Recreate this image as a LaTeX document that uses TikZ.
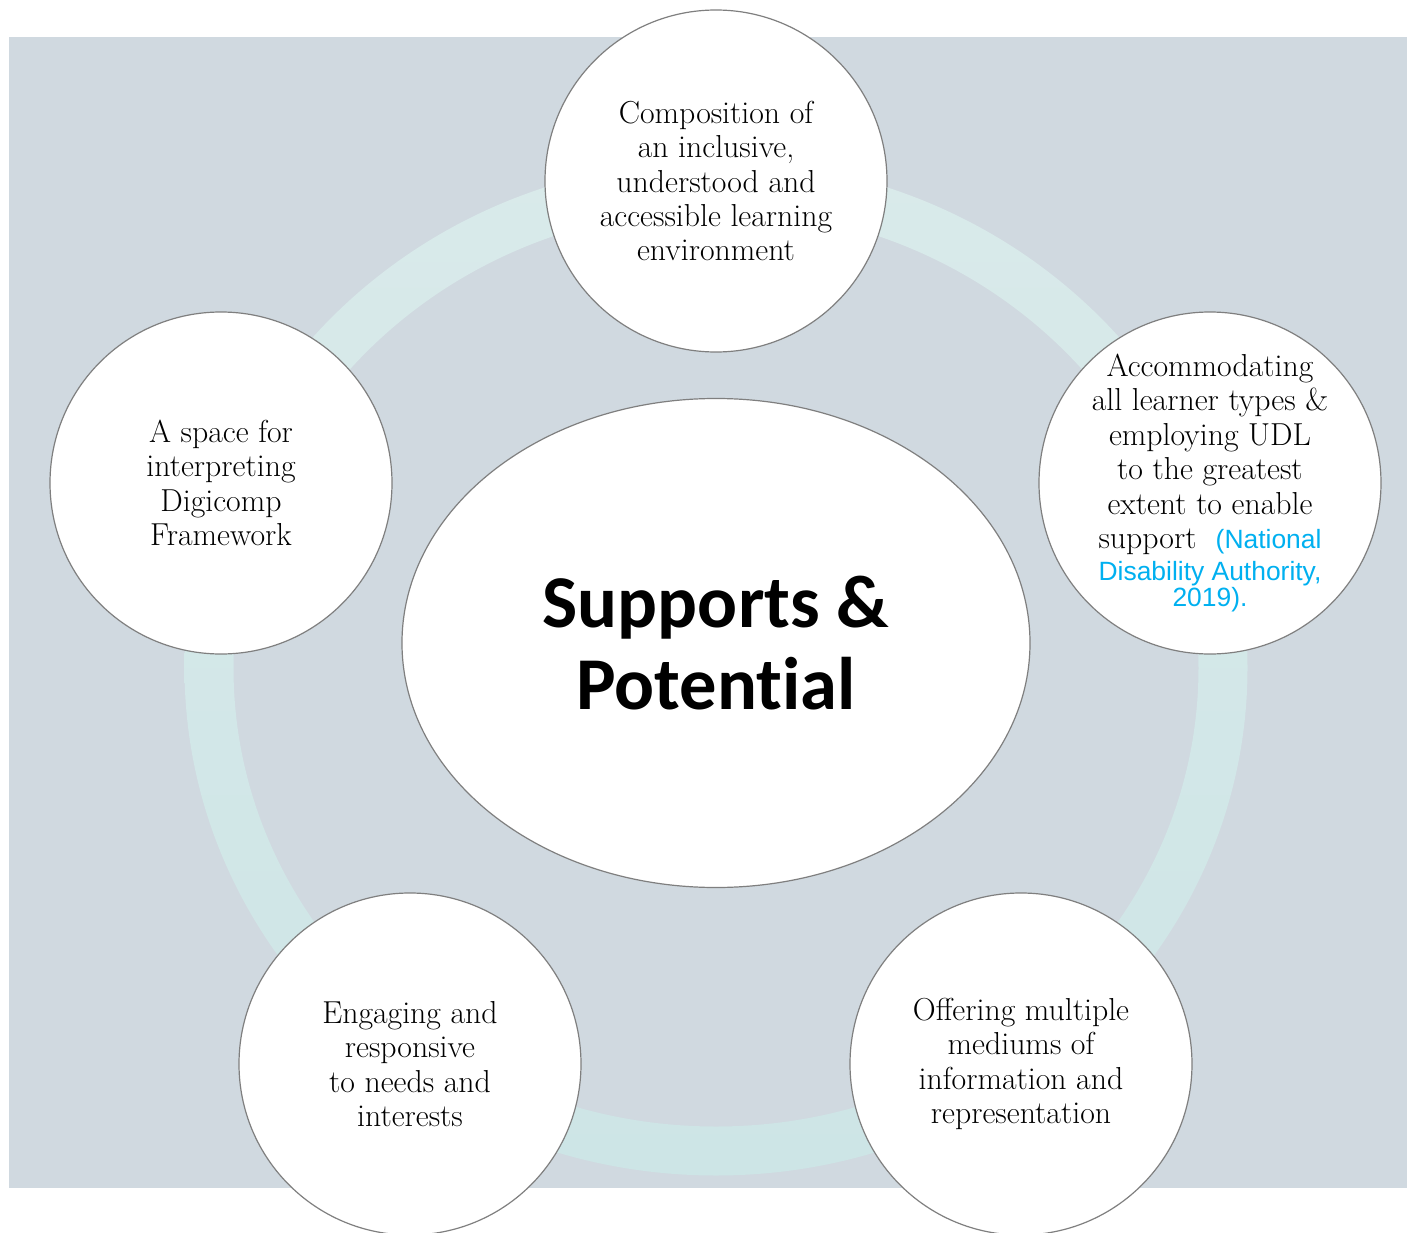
\documentclass[tikz,border=0pt]{standalone}
\usepackage{fontspec}
\newfontfamily\citefont{Liberation Sans}
\newfontfamily\hubfont{Carlito}[Ligatures=NoCommon]
\usetikzlibrary{shapes.geometric}

\definecolor{backdrop}{HTML}{D0D9E0}
\definecolor{ringtop}{HTML}{D9EAEA}
\definecolor{ringbot}{HTML}{CDE5E6}
\definecolor{citeblue}{HTML}{00B0F0}
\definecolor{rim}{HTML}{7F7F7F}

\newcommand{\refnote}[1]{{\citefont\color{citeblue}\fontsize{18.8}{20}\selectfont #1}}

\begin{document}
\begin{tikzpicture}[
    x=0.25mm,
    y=-0.25mm,
    spoke/.style={
        circle,
        draw=rim,
        line width=0.3mm,
        fill=white,
        minimum size=85.5mm,
        inner sep=0pt,
        align=center,
        font=\fontsize{22.6}{24.5}\selectfont,
    },
    hub/.style={
        ellipse,
        draw=rim,
        line width=0.3mm,
        fill=white,
        minimum width=157mm,
        minimum height=122.25mm,
        inner sep=0pt,
        align=center,
        font=\hubfont\bfseries\fontsize{53}{58}\selectfont,
    },
    ring/.style={
        top color=ringtop,
        bottom color=ringbot,
        even odd rule,
    }
]
    \useasboundingbox (0,0) rectangle (1407,1233);

    % Backdrop
    \fill[backdrop] (9,37) rectangle (1407,1188);

    % Ring
    \coordinate (ringc) at (716,668);
    \shade[ring] (ringc) ellipse [x radius=531.5, y radius=507.5]
                 (ringc) ellipse [x radius=482.5, y radius=458.5];

    % Centre
    \node[hub] (hub) at (716,643) {Supports \&\\Potential};

    % Outer circles
    \node[spoke] (compose) at (716,181)
        {Composition of\\ an inclusive,\\ understood and\\ accessible learning\\ environment};
    \node[spoke, inner sep=-4mm] (udl) at (1210,483)
        {Accommodating\\ all learner types \&\\ employing UDL\\ to the greatest\\ extent to enable\\ support~~\refnote{(National}\\[-0.6mm]
         \refnote{Disability Authority,}\\[-2.1mm] \refnote{2019).}};
    \node[spoke] (offer) at (1021,1064)
        {Offering multiple\\ mediums of\\ information and\\ representation};
    \node[spoke] (engage) at (410,1064)
        {Engaging and\\ responsive\\ to needs and\\ interests};
    \node[spoke] (space) at (221,483)
        {A space for\\ interpreting\\ Digicomp\\ Framework};
\end{tikzpicture}
\end{document}
